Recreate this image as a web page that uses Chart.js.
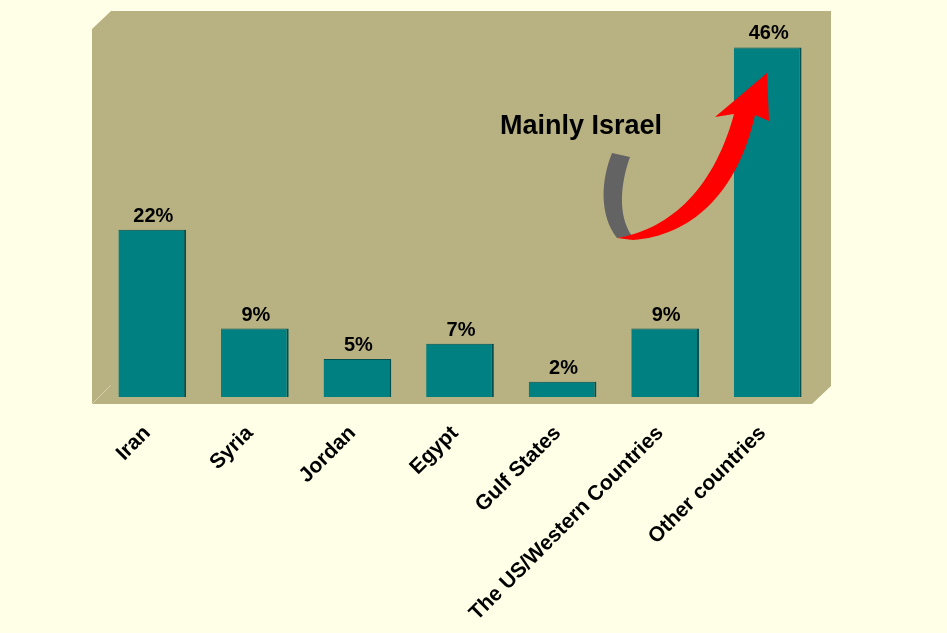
<!DOCTYPE html>
<html>
<head>
<meta charset="utf-8">
<script src="https://cdn.jsdelivr.net/npm/chart.js@4.4.0/dist/chart.umd.min.js"></script>
<style>
  html, body { margin: 0; padding: 0; background: #ffffe8; }
  #wrap { width: 947px; height: 633px; }
</style>
</head>
<body>
<div id="wrap"><canvas id="c" width="947" height="633"></canvas></div>
<script>
// data
const categories = ['Iran', 'Syria', 'Jordan', 'Egypt', 'Gulf States', 'The US/Western Countries', 'Other countries']
const shares = [22, 9, 5, 7, 2, 9, 46]
const noteText = 'Mainly Israel'

const FONT = 'Arial, "Liberation Sans", sans-serif'

// khaki 3d box behind the bars
const boxPlugin = {
  id: 'box',
  beforeDraw(chart) {
    const { ctx, chartArea: a } = chart
    ctx.save()
    ctx.fillStyle = '#b8b283'
    ctx.beginPath()
    ctx.moveTo(a.left + 10, a.top)
    ctx.lineTo(a.right + 12, a.top)
    ctx.lineTo(a.right + 12, a.bottom - 11)
    ctx.lineTo(a.right - 7, a.bottom + 7)
    ctx.lineTo(a.left - 9, a.bottom + 7)
    ctx.lineTo(a.left - 9, a.top + 18)
    ctx.closePath()
    ctx.fill()
    ctx.strokeStyle = '#d6d1a8'
    ctx.lineWidth = 1
    ctx.beginPath()
    ctx.moveTo(a.left - 9, a.bottom + 7)
    ctx.lineTo(a.left + 10, a.bottom - 12)
    ctx.stroke()
    ctx.restore()
  }
}

// value labels above bars + the "Mainly Israel" arrow
const labelPlugin = {
  id: 'labels',
  afterDatasetsDraw(chart) {
    const { ctx } = chart
    const meta = chart.getDatasetMeta(0)
    ctx.save()
    ctx.fillStyle = '#000'
    ctx.font = 'bold 20px ' + FONT
    ctx.textAlign = 'center'
    ctx.textBaseline = 'alphabetic'
    meta.data.forEach((bar, i) => {
      ctx.fillText(shares[i] + '%', bar.x + 1, bar.y - 8)
    })

    // gray part of the ribbon
    ctx.fillStyle = '#636363'
    ctx.beginPath()
    ctx.moveTo(612, 153)
    ctx.lineTo(630, 157)
    ctx.bezierCurveTo(621, 182, 617, 215, 632, 236)
    ctx.lineTo(617, 238)
    ctx.bezierCurveTo(599, 215, 601, 180, 612, 153)
    ctx.closePath()
    ctx.fill()

    // red arrow
    ctx.fillStyle = '#ff0000'
    ctx.beginPath()
    ctx.moveTo(617, 238)
    ctx.bezierCurveTo(665, 230, 712, 195, 734, 114)
    ctx.lineTo(715, 117)
    ctx.lineTo(767, 73)
    ctx.lineTo(769, 121)
    ctx.lineTo(755, 115)
    ctx.bezierCurveTo(737, 195, 690, 236, 633, 240)
    ctx.closePath()
    ctx.fill()

    ctx.font = 'bold 27px ' + FONT
    ctx.textAlign = 'center'
    ctx.textBaseline = 'middle'
    ctx.fillStyle = '#000'
    ctx.fillText(noteText, 581, 127)
    ctx.restore()
  }
}

new Chart(document.getElementById('c'), {
  type: 'bar',
  data: {
    labels: categories,
    datasets: [{
      data: shares,
      backgroundColor: '#008080',
      borderColor: '#004f4f',
      borderWidth: { top: 1, right: 2, left: 0, bottom: 0 },
      borderSkipped: false,
      barPercentage: 0.66,
      categoryPercentage: 1
    }]
  },
  options: {
    responsive: false,
    animation: false,
    events: [],
    layout: { padding: { left: 101, right: 128, top: 11, bottom: 0 } },
    plugins: { legend: { display: false }, tooltip: { enabled: false } },
    scales: {
      y: { display: false, min: 0, max: 50.8 },
      x: {
        grid: { display: false },
        border: { display: false },
        ticks: {
          color: '#000',
          font: { family: FONT, size: 21, weight: 'bold' },
          minRotation: 45,
          maxRotation: 45,
          autoSkip: false,
          padding: 16,
          labelOffset: -5
        },
        afterFit(scale) { scale.height = 236 }
      }
    }
  },
  plugins: [boxPlugin, labelPlugin]
})
</script>
</body>
</html>
